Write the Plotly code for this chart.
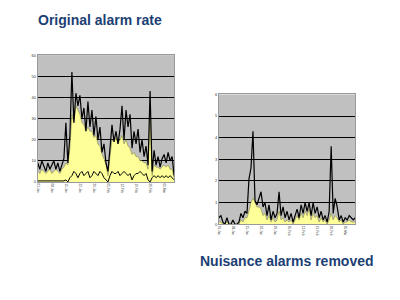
import plotly.graph_objects as go

# ---- data ----
left_total = [9, 6, 10, 7, 5, 9, 6, 8, 10, 6, 9, 5, 8, 11, 28, 9, 22, 52, 28, 42,
              36, 41, 30, 35, 24, 38, 26, 34, 22, 31, 20, 26, 14, 18, 9, 5, 16, 27, 19, 24,
              18, 25, 36, 20, 34, 26, 32, 16, 24, 18, 25, 14, 20, 12, 17, 8, 43, 5, 15, 8,
              12, 7, 11, 13, 9, 14, 10, 12, 3]
left_area = [5, 4, 6, 5, 4, 5, 6, 4, 5, 6, 5, 4, 6, 7, 9, 8, 16, 32, 28, 36,
             34, 32, 28, 27, 24, 26, 24, 24, 21, 22, 18, 17, 13, 11, 8, 3, 12, 20, 19, 21,
             18, 20, 22, 18, 20, 17, 16, 13, 14, 12, 12, 10, 10, 9, 9, 6, 30, 3, 8, 7,
             7, 6, 7, 8, 7, 8, 6, 6, 2]
left_low = [0.5, 0.5, 0.5, 0.5, 0.5, 0.5, 0.5, 0.5, 0.5, 0.5, 0.5, 0.5, 0.5, 0.5, 1, 0, 2, 3, 5, 4,
            2, 4, 5, 3, 4, 5, 2, 3, 5, 4, 3, 5, 4, 2, 1, 0, 3, 5, 4, 4,
            5, 3, 4, 5, 4, 3, 4, 1, 3, 4, 4, 5, 4, 3, 4, 1, 0, 2, 3, 2,
            3, 2, 3, 2, 3, 2, 3, 2, 1]

right_total = [0.3, 0.4, 0.1, 0, 0.3, 0, 0, 0.2, 0, 0, 0.1, 0.5, 0.3, 0.6, 0.5, 2.1, 2.6, 4.3, 1.1, 0.9,
               1.2, 1.5, 0.8, 1.0, 0.4, 0.9, 0.2, 0.6, 0.3, 0.5, 1.5, 0.4, 0.8, 0.3, 0.6, 0.2, 0.5, 0.1, 0.4, 0.7,
               0.3, 0.9, 0.5, 1.0, 0.6, 1.0, 0.4, 1.0, 0.5, 0.8, 0.3, 0.6, 0.2, 0.4, 0.1, 0.6, 3.6, 0.5, 1.2, 0.8,
               0.2, 0.4, 0.1, 0.3, 0.2, 0.4, 0.3, 0.2, 0.3]
right_area = [0.1, 0.1, 0, 0, 0.1, 0, 0, 0, 0, 0, 0, 0.2, 0.1, 0.3, 0.3, 0.6, 1.0, 1.2, 1.0, 0.8,
              0.8, 0.7, 0.4, 0.5, 0.2, 0.4, 0.1, 0.3, 0.1, 0.2, 0.6, 0.2, 0.3, 0.1, 0.2, 0.1, 0.2, 0, 0.2, 0.4,
              0.2, 0.5, 0.3, 0.6, 0.4, 0.7, 0.2, 0.5, 0.3, 0.4, 0.1, 0.3, 0.1, 0.2, 0, 0.2, 0.5, 0.2, 0.4, 0.3,
              0.1, 0.2, 0, 0.1, 0.1, 0.2, 0.1, 0.1, 0.1]

x_idx = list(range(len(left_total)))
tick_pos = [0, 7, 14, 21, 28, 35, 42, 49, 56, 63]
tick_text = ["01-Jan", "08-Jan", "15-Jan", "22-Jan", "29-Jan", "05-Feb", "12-Feb", "19-Feb", "26-Feb", "05-Mar"]
left_yticks = [0, 10, 20, 30, 40, 50, 60]
right_yticks = [0, 1, 2, 3, 4, 5, 6]

YELLOW = "#ffff99"
GREY = "#c0c0c0"
NAVY = "#1c3f74"

fig = go.Figure()

# left chart
fig.add_trace(go.Scatter(x=x_idx, y=left_area, mode="lines", fill="tozeroy", fillcolor=YELLOW,
                         line=dict(color="#8a8a40", width=0.6), xaxis="x", yaxis="y", showlegend=False))
fig.add_trace(go.Scatter(x=x_idx, y=left_total, mode="lines", line=dict(color="black", width=1.2),
                         xaxis="x", yaxis="y", showlegend=False))
fig.add_trace(go.Scatter(x=x_idx, y=left_low, mode="lines", line=dict(color="black", width=1),
                         xaxis="x", yaxis="y", showlegend=False))

# right chart
fig.add_trace(go.Scatter(x=x_idx, y=right_area, mode="lines", fill="tozeroy", fillcolor=YELLOW,
                         line=dict(color="#8a8a40", width=0.6), xaxis="x2", yaxis="y2", showlegend=False))
fig.add_trace(go.Scatter(x=x_idx, y=right_total, mode="lines", line=dict(color="black", width=1.2),
                         xaxis="x2", yaxis="y2", showlegend=False))

xcommon = dict(range=[0, 68], showgrid=False, zeroline=False, showline=True, mirror=True,
               linecolor="#999999", linewidth=1, tickmode="array", tickvals=tick_pos, ticktext=tick_text,
               tickangle=90, tickfont=dict(size=3, color="#333333", family="Arial"), ticks="")
ycommon = dict(showgrid=True, gridcolor="black", gridwidth=1, zeroline=False, showline=True, mirror=True,
               linecolor="#999999", linewidth=1, tickfont=dict(size=4, color="#333333", family="Arial"),
               ticks="", tickmode="array")

fig.update_layout(
    width=400, height=300,
    margin=dict(l=0, r=0, t=0, b=0),
    paper_bgcolor="white", plot_bgcolor=GREY,
    xaxis=dict(domain=[0.09, 0.4325], anchor="y", **xcommon),
    yaxis=dict(domain=[0.3933, 0.8233], anchor="x", range=[0, 60], tickvals=left_yticks,
               ticktext=[str(v) for v in left_yticks], **ycommon),
    xaxis2=dict(domain=[0.545, 0.8875], anchor="y2", **xcommon),
    yaxis2=dict(domain=[0.25, 0.69], anchor="x2", range=[0, 6], tickvals=right_yticks,
                ticktext=[str(v) for v in right_yticks], **ycommon),
)

titles = [("<b>Original alarm rate</b>", 34, 17), ("<b>Nuisance alarms removed</b>", 197, 262)]
for txt, px, py in titles:
    fig.add_annotation(text=txt, x=px / 400, y=1 - py / 300, xref="paper", yref="paper",
                       xanchor="left", yanchor="middle", showarrow=False,
                       font=dict(family="Arial", size=14, color=NAVY))

fig.write_html("out.html")
